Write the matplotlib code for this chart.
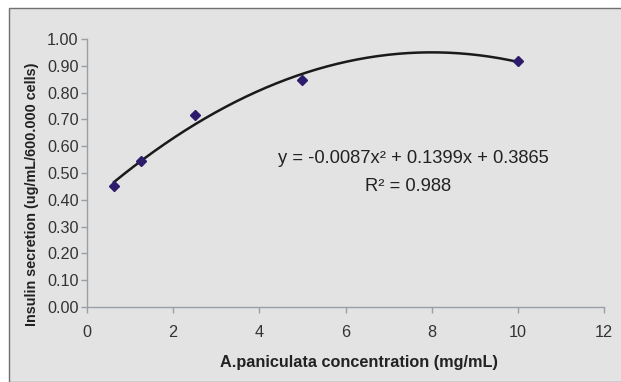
import numpy as np
import matplotlib
matplotlib.use("Agg")
import matplotlib.pyplot as plt
from matplotlib.patches import Rectangle

# Data
conc = [0.625, 1.25, 2.5, 5, 10]
insulin = [0.45, 0.545, 0.715, 0.848, 0.918]
x_ticks = [0, 2, 4, 6, 8, 10, 12]
y_ticks = [0.0, 0.1, 0.2, 0.3, 0.4, 0.5, 0.6, 0.7, 0.8, 0.9, 1.0]
equation = "y = -0.0087x\u00b2 + 0.1399x + 0.3865"
r2_text = "R\u00b2 = 0.988"

plt.rcParams['font.family'] = ['Liberation Sans', 'DejaVu Sans']
W, H = 621, 382
fig = plt.figure(figsize=(W / 100, H / 100), dpi=100)
fig.patch.set_facecolor('white')
bg = '#e3e3e3'
fig.patches.append(Rectangle((9 / W, 0), 1, 1 - 8 / H, transform=fig.transFigure,
                             facecolor=bg, edgecolor='#707070', linewidth=1.0, zorder=-10))

ax = fig.add_axes([87 / W, 1 - 307 / H, (604 - 87) / W, (307 - 39) / H])
ax.set_facecolor(bg)
ax.set_xlim(0, 12)
ax.set_ylim(0, 1.0)
for s in ['top', 'right']:
    ax.spines[s].set_visible(False)
for s in ['left', 'bottom']:
    ax.spines[s].set_color('#9a9ea6')
    ax.spines[s].set_linewidth(1.0)
ax.set_xticks(x_ticks)
ax.set_yticks(y_ticks)
ax.set_yticklabels([f"{v:.2f}" for v in y_ticks])
ax.tick_params(axis='both', colors='#9a9ea6', labelcolor='#333333', labelsize=11.7,
               length=4, width=1.0, direction='out')
ax.tick_params(axis='x', pad=9)
ax.tick_params(axis='y', pad=2)

# trendline from polynomial fit of data
coef = np.polyfit(conc, insulin, 2)
xs = np.linspace(min(conc), max(conc), 200)
ax.plot(xs, np.polyval(coef, xs), color='#1a1a1a', linewidth=1.8, zorder=2)
ax.plot(conc, insulin, linestyle='none', marker='D', markersize=5.5,
        color='#2d1b6b', zorder=3, clip_on=False)

ax.text(0.632, 0.553, equation, transform=ax.transAxes, ha='center', va='center',
        fontsize=13.2, color='#222222')
ax.text(0.621, 0.45, r2_text, transform=ax.transAxes, ha='center', va='center',
        fontsize=13.2, color='#222222')

ax.set_xlabel("A.paniculata concentration (mg/mL)", fontsize=11.7, fontweight='bold',
              color='#222222')
ax.set_ylabel("Insulin secretion (ug/mL/600.000 cells)", fontsize=10.4, fontweight='bold',
              color='#222222')
ax.xaxis.set_label_coords((359 - 87) / 517, (307 - 362) / 268)
ax.yaxis.set_label_coords((32 - 87) / 517, (307 - 194.5) / 268)
ax.xaxis.label.set_va('center')
ax.yaxis.label.set_va('center')

fig.savefig("out.png", dpi=100, facecolor=fig.get_facecolor())
